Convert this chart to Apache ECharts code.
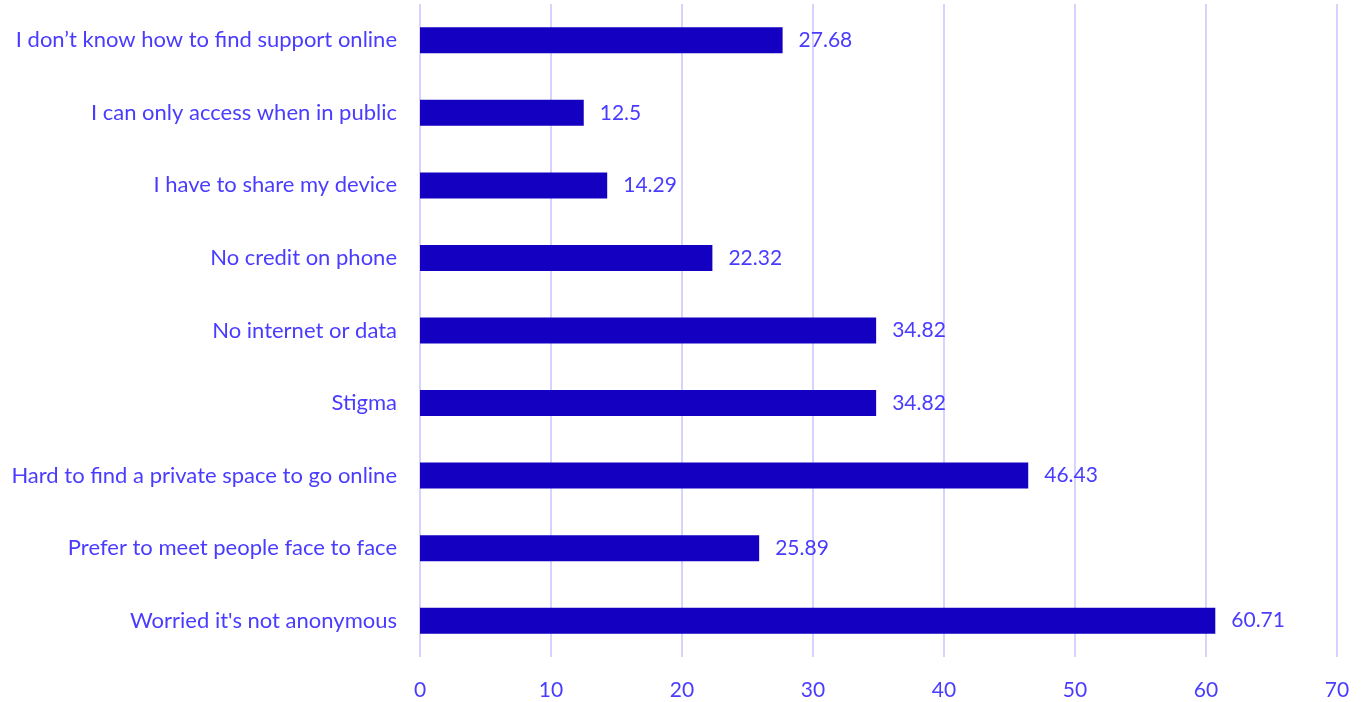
<!DOCTYPE html>
<html>
<head>
<meta charset="utf-8">
<script src="https://cdn.jsdelivr.net/npm/echarts@6/dist/echarts.min.js"></script>
<style>
  html, body { margin: 0; padding: 0; background: #fff; }
  #main { width: 1365px; height: 702px; }
</style>
</head>
<body>
<div id="main"></div>
<script>
// categories listed bottom to top (echarts category axis on y starts at bottom)
const categories = [
  "Worried it's not anonymous",
  'Prefer to meet people face to face',
  'Hard to find a private space to go online',
  'Stigma',
  'No internet or data',
  'No credit on phone',
  'I have to share my device',
  'I can only access when in public',
  'I don\u2019t know how to find support online'
];
const values = [60.71, 25.89, 46.43, 34.82, 34.82, 22.32, 14.29, 12.5, 27.68];
const xTicks = [0, 10, 20, 30, 40, 50, 60, 70];

const textColor = '#4a3cff';
const font = 'Lato';

const chart = echarts.init(document.getElementById('main'));
chart.setOption({
  animation: false,
  grid: { left: 420, right: 28, top: 4, bottom: 45, containLabel: false },
  xAxis: {
    type: 'value',
    min: xTicks[0],
    max: xTicks[xTicks.length - 1],
    interval: 10,
    axisLine: { show: false },
    axisTick: { show: false },
    axisLabel: { color: textColor, fontSize: 21, fontFamily: font, margin: 23 },
    splitLine: { lineStyle: { color: '#d6d3ff', width: 2 } }
  },
  yAxis: {
    type: 'category',
    data: categories,
    axisLine: { show: false },
    axisTick: { show: false },
    axisLabel: { color: textColor, fontSize: 22, fontFamily: font, margin: 23 }
  },
  series: [{
    type: 'bar',
    data: values,
    barWidth: 26,
    itemStyle: { color: '#1400c0' },
    label: {
      show: true,
      position: 'right',
      distance: 16,
      color: textColor,
      fontSize: 21,
      fontFamily: font
    }
  }]
});
</script>
</body>
</html>
